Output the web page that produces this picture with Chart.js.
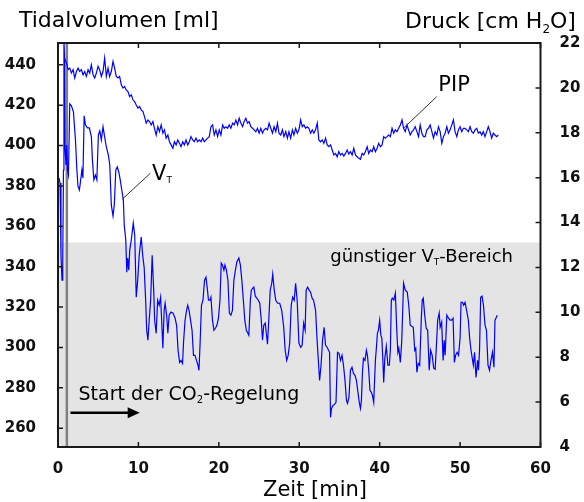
<!DOCTYPE html>
<html><head><meta charset="utf-8">
<script src="https://cdn.jsdelivr.net/npm/chart.js@4"></script>
<style>html,body{margin:0;padding:0;background:#fff;}canvas{display:block;}</style>
</head><body>
<canvas id="c" width="584" height="502"></canvas>
<script>
// ---- data ----
const xTicks = [0, 10, 20, 30, 40, 50, 60];
const vtTicks = [260, 280, 300, 320, 340, 360, 380, 400, 420, 440];
const pressureTicks = [4, 6, 8, 10, 12, 14, 16, 18, 20, 22];
const favorableRangeTop = 352;   // ml, upper limit of favourable VT range
const controlStart = 1.1;        // min, start of CO2 control

// Tidal volume V_T [ml] over time [min]
const vtSeries = [[0.12,384],[0.25,381.5],[0.37,345.7],[0.50,333.3],[0.59,343.3],[0.68,387.9],[0.74,452],[0.83,442.5],[0.89,397.9],[0.99,390.4],[1.08,400.3],[1.18,387.9],[1.30,385.4],[1.46,420.7],[1.67,419.7],[1.92,416.7],[2.17,402.8],[2.35,387.9],[2.48,380],[2.66,378],[2.79,382],[2.97,387.9],[3.10,383.9],[3.25,414.7],[3.41,410.3],[3.66,408.8],[3.90,408.8],[4.15,404.3],[4.28,392.9],[4.46,383],[4.65,385.4],[4.83,383],[5.02,405.3],[5.20,407.3],[5.39,402.8],[5.60,409.3],[5.76,405.3],[6.01,399.3],[6.26,395.4],[6.44,390.4],[6.63,370.6],[6.84,365.1],[7.00,370.6],[7.19,387.9],[7.37,389.4],[7.56,386.9],[7.74,383],[7.93,378],[8.12,373.5],[8.24,360.6],[8.43,353.2],[8.55,337.3],[8.67,344.3],[8.80,338.3],[8.92,348.2],[9.11,353.2],[9.36,361.6],[9.54,355.7],[9.73,324.9],[9.91,333.3],[10.10,345.7],[10.35,354.7],[10.53,345.7],[10.72,339.3],[10.90,323.4],[11.03,308.5],[11.18,303.6],[11.34,313.5],[11.52,323.4],[11.71,345.7],[11.90,328.4],[12.02,313.5],[12.21,307],[12.39,323.4],[12.58,320.9],[12.76,324.9],[12.89,313.5],[13.04,299.6],[13.20,318.4],[13.32,321.9],[13.51,316],[13.66,307],[13.82,316],[14.06,317.5],[14.31,317],[14.56,314.5],[14.75,311],[14.93,298.6],[15.12,292.6],[15.30,293.6],[15.49,292.1],[15.61,302.6],[15.80,313.5],[15.99,318.4],[16.13,320.9],[16.30,318.4],[16.48,313.5],[16.67,308.5],[16.85,296.1],[17.04,296.1],[17.22,293.6],[17.41,291.2],[17.53,288.7],[17.66,301.1],[17.84,320.9],[18.03,323.4],[18.22,333.3],[18.40,334.8],[18.59,328.4],[18.71,323.4],[18.90,323.4],[19.02,324.9],[19.21,313.5],[19.39,308.5],[19.58,309.5],[19.76,311],[19.95,314.5],[20.14,323.4],[20.30,341.8],[20.45,340.8],[20.63,338.3],[20.76,340.8],[20.94,338.3],[21.13,333.3],[21.31,317],[21.50,316],[21.69,318.4],[21.87,333.3],[22.06,338.3],[22.24,342.3],[22.49,344.3],[22.68,340.8],[22.86,333.3],[23.05,323.4],[23.23,313.5],[23.42,308.5],[23.61,307],[23.73,306],[23.92,323.4],[24.04,328.4],[24.23,329.4],[24.35,329.9],[24.54,325.4],[24.72,324.4],[24.91,323.4],[25.09,321.9],[25.28,313.5],[25.43,303.6],[25.59,311],[25.77,312],[26.05,301.6],[26.21,313.5],[26.39,328.4],[26.58,331.8],[26.70,336.3],[26.89,328.4],[27.08,323.4],[27.32,321.9],[27.57,321.9],[27.82,318.4],[28.07,310],[28.25,298.6],[28.44,293.6],[28.62,296.1],[28.81,302.1],[29.00,320.9],[29.18,324.9],[29.37,323.4],[29.55,331.8],[29.74,323.4],[29.96,302.1],[30.17,300.1],[30.36,301.1],[30.55,312],[30.73,308.5],[30.86,328.4],[31.04,329.9],[31.23,328.4],[31.41,327.4],[31.60,324.4],[31.78,323.4],[32.03,318.4],[32.22,303.6],[32.40,292.1],[32.53,283.7],[32.71,291.2],[32.90,303.6],[33.09,310],[33.27,301.1],[33.46,300.1],[33.64,298.6],[33.77,297.6],[33.89,265.4],[34.01,269.8],[34.20,271.3],[34.39,271.8],[34.57,272.8],[34.76,297.6],[34.94,297.1],[35.13,293.6],[35.32,296.1],[35.50,291.2],[35.69,283.7],[35.87,273.8],[36.00,272.3],[36.18,275.3],[36.37,288.7],[36.56,290.2],[36.74,287.2],[36.93,286.2],[37.11,283.7],[37.30,277.8],[37.48,272.3],[37.61,269.8],[37.73,273.8],[37.86,287.7],[37.98,294.6],[38.17,293.6],[38.35,298.6],[38.48,296.1],[38.64,288.7],[38.79,278.8],[38.97,277.8],[39.10,276.3],[39.26,272.8],[39.47,293.6],[39.59,299.6],[39.72,307],[39.84,308.5],[40.00,313.5],[40.15,306],[40.27,304.6],[40.40,293.6],[40.50,282.7],[40.64,294.6],[40.83,300.6],[41.02,291.2],[41.20,291.2],[41.33,298.6],[41.45,323.4],[41.57,324.4],[41.76,323.4],[41.95,326.9],[42.13,308.5],[42.26,297.6],[42.38,299.6],[42.57,292.6],[42.75,303.6],[42.97,331.8],[43.18,328.4],[43.43,327.4],[43.62,320.9],[43.80,311],[43.99,310.5],[44.18,310],[44.36,298.6],[44.49,299.6],[44.63,287.7],[44.80,292.1],[44.98,291.2],[45.17,313.5],[45.29,323.4],[45.42,324.4],[45.60,316],[45.79,309.5],[45.97,308.5],[46.16,288.7],[46.34,298.6],[46.53,296.1],[46.72,289.7],[46.90,289.2],[47.09,303.6],[47.21,313.5],[47.40,317],[47.52,310],[47.71,312.5],[47.89,293.6],[48.02,303.6],[48.14,296.1],[48.35,316],[48.57,314.5],[48.76,313.5],[48.95,313.5],[49.13,314.5],[49.29,292.6],[49.44,296.1],[49.63,297.6],[49.81,296.1],[50.00,304.6],[50.12,322.4],[50.31,322.4],[50.43,320.9],[50.62,322.4],[50.81,318.4],[51.03,313.5],[51.18,305],[51.36,298.6],[51.65,291.2],[51.80,297.6],[51.98,285.2],[52.17,293.6],[52.29,288.7],[52.42,298.6],[52.56,324.9],[52.73,325.4],[52.91,320.9],[53.10,311],[53.28,308.5],[53.47,291.2],[53.66,288.7],[53.84,293.6],[54.03,297.6],[54.21,290.2],[54.34,313.5],[54.52,315],[54.62,316]];

// Peak inspiratory pressure PIP [cm H2O] over time [min]
const pipSeries = [[0.85,21.3],[1.05,21.11],[1.26,20.81],[1.46,20.88],[1.67,20.66],[1.88,20.81],[2.08,20.44],[2.29,20.73],[2.50,20.88],[2.70,20.73],[2.91,20.81],[3.12,20.58],[3.32,20.73],[3.53,20.51],[3.74,20.81],[3.94,20.66],[4.15,21.03],[4.36,20.58],[4.56,20.44],[4.77,20.66],[4.98,20.96],[5.18,20.81],[5.39,20.51],[5.60,20.73],[5.80,21.33],[6.01,20.51],[6.22,20.88],[6.42,20.51],[6.63,20.73],[6.84,21.18],[7.04,20.88],[7.25,20.51],[7.46,20.44],[7.66,20.51],[7.87,20.14],[8.08,19.99],[8.28,20.06],[8.49,19.91],[8.70,19.84],[8.90,19.61],[9.11,19.69],[9.32,19.47],[9.52,19.39],[9.73,19.24],[9.94,19.10],[10.14,19.17],[10.35,19.02],[10.56,18.94],[10.76,18.72],[10.97,18.43],[11.18,18.57],[11.38,18.50],[11.59,18.35],[11.80,18.50],[12.00,18.20],[12.21,17.90],[12.42,18.27],[12.62,18.05],[12.83,18.35],[13.04,17.98],[13.24,18.13],[13.45,17.76],[13.66,17.90],[13.86,17.60],[14.07,17.46],[14.28,17.31],[14.48,17.60],[14.69,17.46],[14.89,17.68],[15.10,17.53],[15.30,17.38],[15.51,17.60],[15.71,17.46],[15.92,17.68],[16.13,17.46],[16.33,17.60],[16.54,17.83],[16.75,17.68],[16.95,17.60],[17.16,17.76],[17.37,17.60],[17.57,17.68],[17.78,17.60],[17.99,17.76],[18.19,17.60],[18.40,17.68],[18.61,17.76],[18.81,17.83],[19.02,18.27],[19.23,18.35],[19.43,17.90],[19.64,18.13],[19.85,17.83],[20.05,18.13],[20.26,17.90],[20.47,18.35],[20.67,18.20],[20.88,18.27],[21.08,18.20],[21.29,18.35],[21.50,18.20],[21.71,18.43],[21.91,18.35],[22.12,18.57],[22.33,18.35],[22.53,18.65],[22.74,18.43],[22.95,18.27],[23.15,18.50],[23.36,18.65],[23.57,18.43],[23.77,18.50],[23.98,18.27],[24.19,18.20],[24.39,18.13],[24.60,18.05],[24.81,18.20],[25.01,17.98],[25.22,18.20],[25.43,17.98],[25.63,18.13],[25.84,18.20],[26.05,18.13],[26.25,18.43],[26.46,18.20],[26.67,17.98],[26.87,18.27],[27.08,18.05],[27.29,18.43],[27.48,17.98],[27.70,17.90],[27.91,18.13],[28.10,17.83],[28.32,18.05],[28.53,17.76],[28.72,18.05],[28.93,17.76],[29.15,18.13],[29.34,17.90],[29.55,18.20],[29.76,17.98],[29.96,18.13],[30.17,18.57],[30.38,18.27],[30.58,18.35],[30.79,18.20],[31.00,18.27],[31.20,18.20],[31.41,17.98],[31.62,18.13],[31.82,17.98],[32.03,18.13],[32.24,18.43],[32.44,17.68],[32.65,17.60],[32.86,17.68],[33.06,17.53],[33.27,17.76],[33.48,17.46],[33.68,17.38],[33.89,17.46],[34.10,17.23],[34.30,17.01],[34.51,17.08],[34.72,16.93],[34.92,17.16],[35.13,17.01],[35.34,17.08],[35.54,16.96],[35.75,17.08],[35.96,17.23],[36.16,17.05],[36.37,17.16],[36.58,17.01],[36.78,17.31],[36.99,17.01],[37.20,16.93],[37.40,16.86],[37.61,16.82],[37.82,17.08],[38.02,17.01],[38.23,17.16],[38.44,17.38],[38.64,17.08],[38.85,17.23],[39.06,17.16],[39.26,17.38],[39.47,17.16],[39.68,17.31],[39.88,17.53],[40.09,17.38],[40.30,17.46],[40.50,17.83],[40.71,17.76],[40.92,17.83],[41.12,17.90],[41.33,17.83],[41.54,18.20],[41.74,17.98],[41.95,18.13],[42.16,18.05],[42.36,18.20],[42.57,18.35],[42.78,18.57],[42.97,18.20],[43.18,18.05],[43.40,18.35],[43.59,18.13],[43.80,17.90],[44.01,18.05],[44.21,18.13],[44.42,18.27],[44.63,18.05],[44.83,17.83],[45.04,18.35],[45.25,17.98],[45.45,17.83],[45.66,17.83],[45.87,18.13],[46.07,18.20],[46.28,18.35],[46.49,18.05],[46.69,17.76],[46.90,18.05],[47.11,17.90],[47.31,18.27],[47.52,18.05],[47.73,17.53],[47.93,17.83],[48.14,17.98],[48.35,18.27],[48.55,17.98],[48.76,18.13],[48.97,18.35],[49.17,18.57],[49.38,18.05],[49.59,17.83],[49.79,18.13],[50.00,18.27],[50.21,18.05],[50.41,18.20],[50.62,18.20],[50.83,18.13],[51.03,18.05],[51.24,18.27],[51.45,18.05],[51.65,17.98],[51.86,18.13],[52.07,18.20],[52.27,17.98],[52.48,18.05],[52.69,17.90],[52.89,18.05],[53.10,17.83],[53.31,18.05],[53.51,18.27],[53.72,18.05],[53.93,17.76],[54.13,17.98],[54.34,17.90],[54.55,17.83],[54.75,17.90]];

// ---- drawing helpers ----
const FONT = '"DejaVu Sans"';
function rich(ctx, parts, x, y) {
  let cx = x;
  for (const p of parts) {
    ctx.font = (p.weight || '') + ' ' + p.size + 'px ' + FONT;
    ctx.fillText(p.text, cx, y + (p.dy || 0));
    cx += ctx.measureText(p.text).width;
  }
}

const decor = {
  id: 'decor',
  beforeDatasetsDraw(chart) {
    const {ctx, chartArea: a, scales: {x, y}} = chart;
    ctx.save();
    const yb = y.getPixelForValue(favorableRangeTop);
    ctx.fillStyle = '#e4e4e4';
    ctx.fillRect(a.left, yb, a.right - a.left, a.bottom - yb);
    const xs = x.getPixelForValue(controlStart);
    ctx.strokeStyle = '#808080';
    ctx.lineWidth = 2.5;
    ctx.beginPath(); ctx.moveTo(xs, a.top); ctx.lineTo(xs, a.bottom); ctx.stroke();
    ctx.restore();
  },
  afterDatasetsDraw(chart) {
    const {ctx, chartArea: a, scales: {x, y, y1}} = chart;
    ctx.save();
    // frame
    ctx.strokeStyle = '#1a1a1a';
    ctx.lineWidth = 2;
    ctx.strokeRect(a.left, a.top, a.right - a.left, a.bottom - a.top);
    // inward tick marks
    ctx.lineWidth = 1.5;
    ctx.beginPath();
    const tl = 5;
    xTicks.forEach(v => {
      const px = x.getPixelForValue(v);
      ctx.moveTo(px, a.bottom); ctx.lineTo(px, a.bottom - tl);
      ctx.moveTo(px, a.top); ctx.lineTo(px, a.top + tl);
    });
    vtTicks.forEach(v => { const py = y.getPixelForValue(v); ctx.moveTo(a.left, py); ctx.lineTo(a.left + tl, py); });
    pressureTicks.forEach(v => { const py = y1.getPixelForValue(v); ctx.moveTo(a.right, py); ctx.lineTo(a.right - tl, py); });
    ctx.stroke();

    // leader lines
    ctx.strokeStyle = '#333';
    ctx.lineWidth = 1;
    ctx.beginPath();
    ctx.moveTo(x.getPixelForValue(7.98), y.getPixelForValue(373.4));
    ctx.lineTo(x.getPixelForValue(11.49), y.getPixelForValue(386.3));
    ctx.moveTo(x.getPixelForValue(42.96), y1.getPixelForValue(18.2));
    ctx.lineTo(x.getPixelForValue(47.1), y1.getPixelForValue(19.61));
    ctx.stroke();

    // arrow for start of CO2 control
    const ay = y.getPixelForValue(267.7);
    const ax0 = x.getPixelForValue(1.55), ax1 = x.getPixelForValue(10.16);
    ctx.strokeStyle = '#000'; ctx.fillStyle = '#000';
    ctx.lineWidth = 2.5;
    ctx.beginPath(); ctx.moveTo(ax0, ay); ctx.lineTo(ax1 - 9, ay); ctx.stroke();
    ctx.beginPath(); ctx.moveTo(ax1, ay); ctx.lineTo(ax1 - 12, ay - 5.5); ctx.lineTo(ax1 - 12, ay + 5.5); ctx.closePath(); ctx.fill();

    // annotation texts
    ctx.fillStyle = '#000';
    ctx.textBaseline = 'alphabetic';
    ctx.textAlign = 'left';
    rich(ctx, [{text: 'V', size: 21}, {text: 'T', size: 9, dy: 3}], x.getPixelForValue(11.7), y.getPixelForValue(383));
    rich(ctx, [{text: 'PIP', size: 21}], x.getPixelForValue(47.3), y1.getPixelForValue(19.84));
    rich(ctx, [{text: 'Start der CO', size: 19}, {text: '2', size: 10, dy: 3}, {text: '-Regelung', size: 19}], x.getPixelForValue(2.55), y.getPixelForValue(273.8));
    rich(ctx, [{text: 'günstiger V', size: 18}, {text: 'T', size: 9, dy: 3}, {text: '-Bereich', size: 18}], x.getPixelForValue(33.85), y.getPixelForValue(342.1));

    // axis titles
    rich(ctx, [{text: 'Tidalvolumen [ml]', size: 22}], 19, 27);
    rich(ctx, [{text: 'Druck [cm H', size: 22}, {text: '2', size: 12, dy: 5}, {text: 'O]', size: 22}], 405, 28);
    rich(ctx, [{text: 'Zeit [min]', size: 21}], 263, 496);
    ctx.restore();
  }
};

const tickFont = {family: FONT, size: 15, weight: 'bold'};

new Chart(document.getElementById('c'), {
  type: 'line',
  data: {
    datasets: [
      {label: 'VT', data: vtSeries.map(p => ({x: p[0], y: p[1]})), yAxisID: 'y',
       borderColor: '#0000ff', borderWidth: 1.2, pointRadius: 0, tension: 0, fill: false},
      {label: 'PIP', data: pipSeries.map(p => ({x: p[0], y: p[1]})), yAxisID: 'y1',
       borderColor: '#0000ff', borderWidth: 1.2, pointRadius: 0, tension: 0, fill: false}
    ]
  },
  options: {
    responsive: false,
    animation: false,
    devicePixelRatio: 1,
    layout: {padding: {top: 43, left: 0, right: 0, bottom: 0}},
    plugins: {legend: {display: false}, tooltip: {enabled: false}},
    scales: {
      x: {
        type: 'linear', position: 'bottom', min: 0, max: 60,
        afterBuildTicks: s => { s.ticks = xTicks.map(v => ({value: v})); },
        afterFit: s => { s.height = 55; },
        grid: {display: false}, border: {display: false},
        ticks: {font: tickFont, color: '#111', padding: 5, autoSkip: false, maxRotation: 0}
      },
      y: {
        type: 'linear', position: 'left', min: 250.7, max: 450.8,
        afterBuildTicks: s => { s.ticks = vtTicks.map(v => ({value: v})); },
        afterFit: s => { s.width = 58; },
        grid: {display: false}, border: {display: false},
        ticks: {font: tickFont, color: '#111', padding: 14}
      },
      y1: {
        type: 'linear', position: 'right', min: 4, max: 22,
        afterBuildTicks: s => { s.ticks = pressureTicks.map(v => ({value: v})); },
        afterFit: s => { s.width = 43.5; },
        grid: {display: false}, border: {display: false},
        ticks: {font: tickFont, color: '#111', padding: 11}
      }
    }
  },
  plugins: [decor]
});
</script>
</body></html>
